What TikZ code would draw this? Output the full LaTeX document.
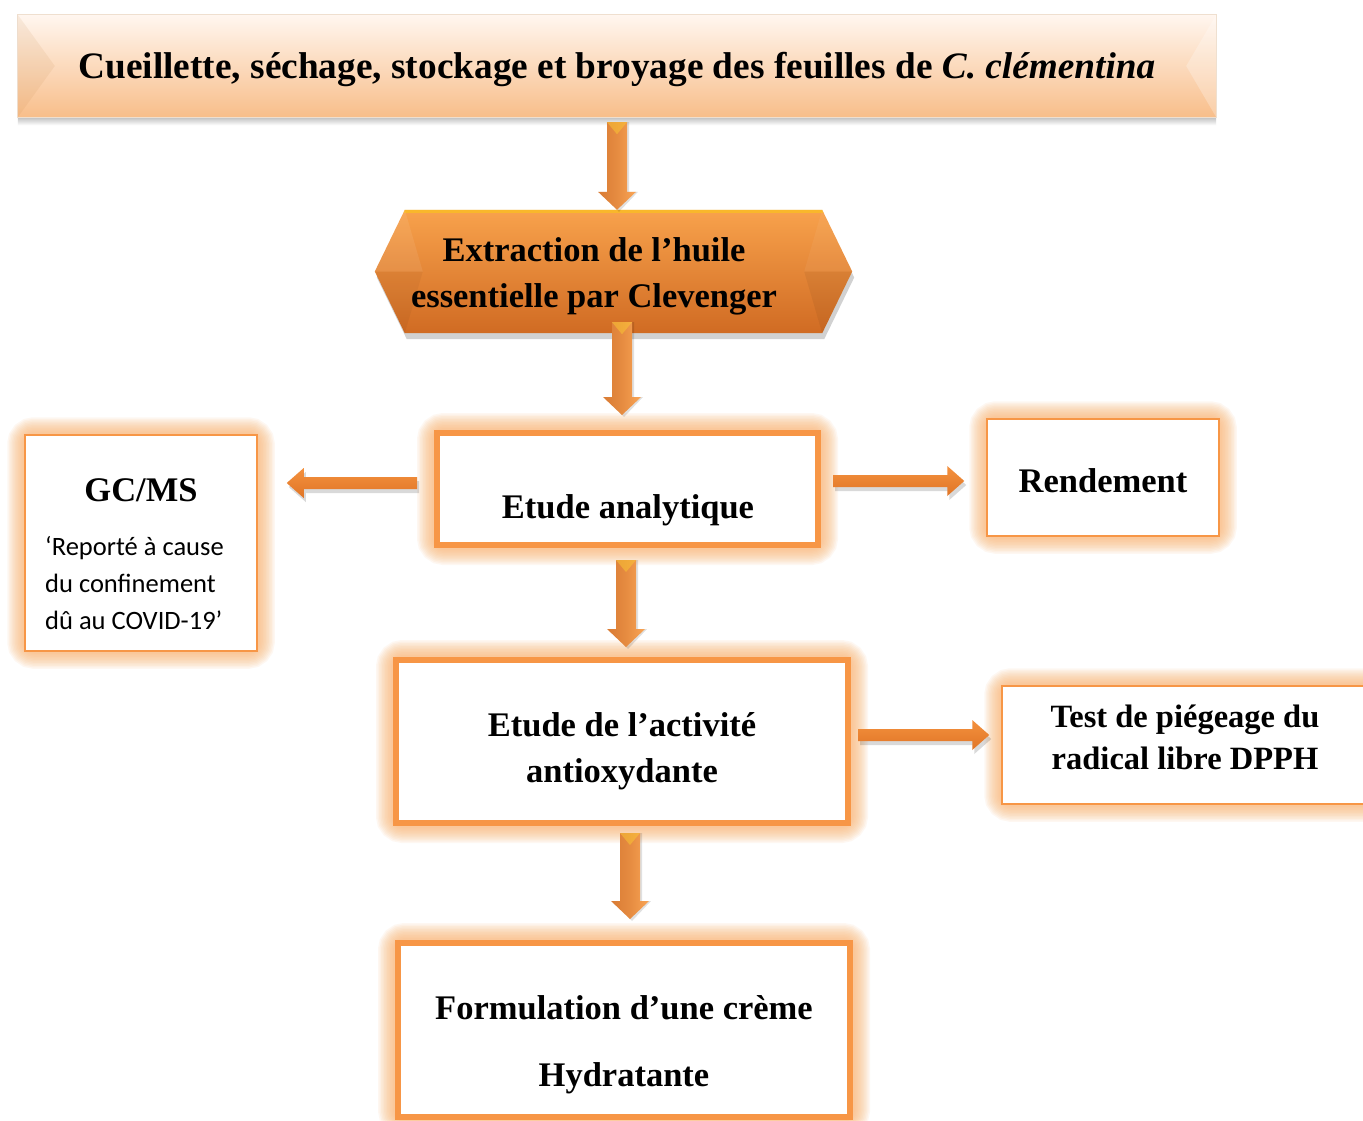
\documentclass[tikz,border=0pt]{standalone}
\usepackage{fontspec}
\setmainfont{Liberation Serif}
\newfontfamily\calib{Carlito}
\usetikzlibrary{calc}
\definecolor{acc}{HTML}{F79646}
\definecolor{glowc}{HTML}{FAB06A}
\definecolor{bantop}{HTML}{FFF6EF}
\definecolor{banmid}{HTML}{FBDCC3}
\definecolor{banbot}{HTML}{F8BE8A}
\definecolor{hextop}{HTML}{F8A24C}
\definecolor{hexbot}{HTML}{D06B23}
\definecolor{arrD}{HTML}{D97B34}
\definecolor{arrL}{HTML}{F9A555}
\definecolor{harT}{HTML}{F4913E}
\definecolor{harB}{HTML}{E07526}
\pgfdeclarelayer{bg}
\pgfdeclarelayer{paper}
\pgfsetlayers{paper,bg,main}
\newcommand\glowbox[1]{%
  \begin{pgfonlayer}{bg}
  \foreach \w in {34,31,...,4}
    \draw[glowc, line width=\w pt, opacity=0.09, rounded corners=10pt] (#1.north west) rectangle (#1.south east);
  \end{pgfonlayer}}
\newcommand\varrow[2]{%
  \fill[black, opacity=.12] let \p1=#1, \p2=#2 in
    (\x1-8,\y1) -- (\x1+12,\y1) -- (\x1+12,\y2+18) -- (\x1+21,\y2+18) -- (\x1+2,\y2-2) -- (\x1-17,\y2+18) -- (\x1-8,\y2+18) -- cycle;
  \shade[left color=arrD, right color=arrL, middle color=arrD!60!arrL] let \p1=#1, \p2=#2 in
    (\x1-10,\y1) -- (\x1+10,\y1) -- (\x1+10,\y2+18) -- (\x1+19,\y2+18) -- (\x1,\y2) -- (\x1-19,\y2+18) -- (\x1-10,\y2+18) -- cycle;
  \fill[arrL!60!yellow, opacity=.5] let \p1=#1 in (\x1-10,\y1) -- (\x1+10,\y1) -- (\x1,\y1-12) -- cycle;}
\newcommand\rarrow[2]{%
  \fill[black, opacity=.15] let \p1=#1, \p2=#2 in
    (\x1+2,\y1-10) -- (\x2-15,\y1-10) -- (\x2-15,\y1-19) -- (\x2+2,\y1-4) -- (\x2-15,\y1+11) -- (\x2-15,\y1+2) -- (\x1+2,\y1+2) -- cycle;
  \shade[top color=harT, bottom color=harB] let \p1=#1, \p2=#2 in
    (\x1,\y1-6) -- (\x2-17,\y1-6) -- (\x2-17,\y1-15) -- (\x2,\y1) -- (\x2-17,\y1+15) -- (\x2-17,\y1+6) -- (\x1,\y1+6) -- cycle;}
\newcommand\larrow[2]{%
  \fill[black, opacity=.15] let \p1=#1, \p2=#2 in
    (\x1+2,\y1-10) -- (\x2+19,\y1-10) -- (\x2+19,\y1-19) -- (\x2+2,\y1-4) -- (\x2+19,\y1+11) -- (\x2+19,\y1+2) -- (\x1+2,\y1+2) -- cycle;
  \shade[top color=harT, bottom color=harB] let \p1=#1, \p2=#2 in
    (\x1,\y1-6) -- (\x2+17,\y1-6) -- (\x2+17,\y1-15) -- (\x2,\y1) -- (\x2+17,\y1+15) -- (\x2+17,\y1+6) -- (\x1,\y1+6) -- cycle;}
\begin{document}
\begin{tikzpicture}[x=1pt,y=-1pt,
  thickbox/.style={draw=acc, line width=6pt, fill=white, inner sep=0pt},
  thinbox/.style={draw=acc, line width=1.5pt, fill=white, inner sep=0pt},
  frame/.style={inner sep=0pt},
  lbl/.style={font=\fontsize{34.5}{46}\bfseries\selectfont, align=center, inner sep=0pt},
  small/.style={font=\calib\fontsize{26.5}{37}\selectfont, align=left, inner sep=0pt}]
\useasboundingbox (0,0) rectangle (1363,1120);
\clip (0,0) rectangle (1363,1120);
\begin{pgfonlayer}{paper}
\fill[white] (0,0) rectangle (1363,1120);
\end{pgfonlayer}

% ---- banner
\node[frame, minimum width=1198pt, minimum height=102pt] (top) at (617,66) {};
\begin{pgfonlayer}{bg}
  \shade[top color=gray!50, bottom color=white] (top.south west) rectangle ($(top.south east)+(0,8)$);
  \shade[top color=bantop, middle color=banmid, bottom color=banbot, draw=brown!25, line width=0.8pt]
     (top.north west) rectangle (top.south east);
  \fill[brown, opacity=.10] (top.north west) -- ($(top.west)+(37,0)$) -- (top.south west) -- cycle;
  \fill[white, opacity=.25] (top.north east) -- ($(top.east)+(-30,0)$) -- (top.south east) -- cycle;
\end{pgfonlayer}
\node[lbl, font=\fontsize{37.3}{46}\bfseries\selectfont, anchor=base] (toptext) at (617,78)
  {Cueillette, séchage, stockage et broyage des feuilles de \textit{C. clémentina}};

% ---- hexagon
\node[frame, minimum width=417pt, minimum height=123pt] (hex) at (613.5,271.5) {};
\begin{pgfonlayer}{bg}
  \fill[black, opacity=.18] ($(hex.north west)+(2,6)$) -- ($(hex.north east)+(2,6)$) -- ($(hex.east)+(32,6)$)
     -- ($(hex.south east)+(2,6)$) -- ($(hex.south west)+(2,6)$) -- ($(hex.west)+(-28,6)$) -- cycle;
  \shade[top color=hextop, bottom color=hexbot]
     (hex.north west) -- (hex.north east) -- ($(hex.east)+(30,0)$) -- (hex.south east)
     -- (hex.south west) -- ($(hex.west)+(-30,0)$) -- cycle;
  \fill[yellow!70!orange, opacity=.45] (hex.north west) -- (hex.north east) -- ($(hex.north east)+(1,3)$) -- ($(hex.north west)+(-1,3)$) -- cycle;
  \fill[white, opacity=.08] (hex.north west) -- ($(hex.west)+(-30,0)$) -- ($(hex.west)+(18,0)$) -- cycle;
  \fill[black, opacity=.04] (hex.south west) -- ($(hex.west)+(-30,0)$) -- ($(hex.west)+(18,0)$) -- cycle;
  \fill[white, opacity=.05] (hex.north east) -- ($(hex.east)+(30,0)$) -- ($(hex.east)+(-18,0)$) -- cycle;
  \fill[black, opacity=.05] (hex.south east) -- ($(hex.east)+(30,0)$) -- ($(hex.east)+(-18,0)$) -- cycle;
\end{pgfonlayer}
\node[lbl] (hext) at (594,276) {Extraction de l’huile\\essentielle par Clevenger};

% ---- boxes
\node[thickbox, minimum width=381pt, minimum height=112pt] (ana) at (627.5,489) {};
\node[lbl, anchor=base] (anat) at (628,518) {Etude analytique};
\glowbox{ana}

\node[thinbox, minimum width=232pt, minimum height=216pt] (gc) at (141,543) {};
\node[lbl, anchor=base] (gct) at (141,501) {GC/MS};
\node[small, anchor=west] (gcn) at (45,583) {‘Reporté à cause\\du confinement\\dû au COVID-19’};
\glowbox{gc}

\node[thinbox, minimum width=232pt, minimum height=117pt] (rend) at (1103,477.5) {};
\node[lbl, anchor=base] (rendt) at (1103,492.5) {Rendement};
\glowbox{rend}

\node[thickbox, minimum width=452pt, minimum height=163pt] (act) at (622,741.5) {};
\node[lbl] (actt) at (622,751) {Etude de l’activité\\antioxydante};
\glowbox{act}

\node[thinbox, minimum width=380pt, minimum height=118pt] (test) at (1192,745) {};
\node[lbl, font=\fontsize{32.5}{42}\bfseries\selectfont] (testt) at (1185,737) {Test de piégeage du\\radical libre DPPH};
\glowbox{test}

\node[thickbox, minimum width=452pt, minimum height=174pt] (form) at (624,1030) {};
\node[lbl, font=\fontsize{34.5}{67}\bfseries\selectfont] (formt) at (624,1044.5) {Formulation d’une crème\\Hydratante};
\glowbox{form}

% ---- connectors
\varrow{($(top.south)+(0,5)$)}{(top.south |- hex.north)}
\varrow{($(hex.south)+(8.5,-11)$)}{($(ana.north)+(-5.5,-15)$)}
\varrow{($(ana.south)+(-1.5,12)$)}{($(act.north)+(4,-10)$)}
\varrow{($(act.south)+(8,7)$)}{($(form.north)+(6,-21)$)}
\larrow{($(ana.west)+(-17,-6)$)}{($(gc.east)+(29,0)$)}
\rarrow{($(ana.east)+(12,-8)$)}{($(rend.west)+(-22,0)$)}
\rarrow{($(act.east)+(7,-6.5)$)}{($(test.west)+(-12,0)$)}
\end{tikzpicture}
\end{document}
